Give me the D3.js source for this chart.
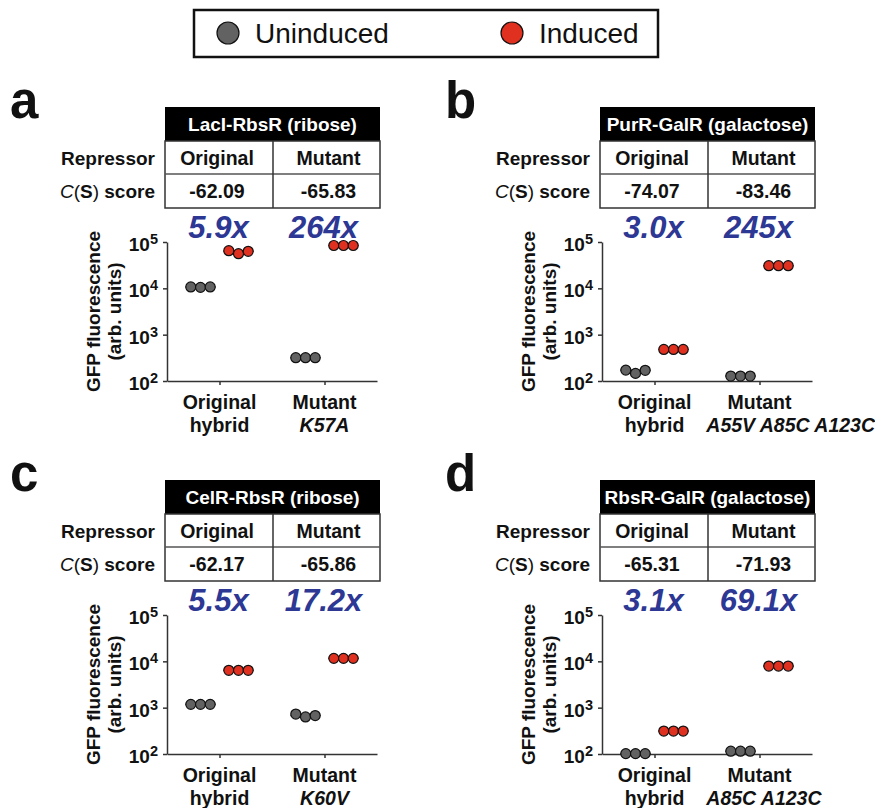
<!DOCTYPE html>
<html>
<head>
<meta charset="utf-8">
<script src="https://cdnjs.cloudflare.com/ajax/libs/d3/7.8.5/d3.min.js"></script>
<style>
	body { margin: 0; background: #fff; }
	svg { display: block; font-family: "Liberation Sans", Arial, sans-serif; }
</style>
</head>
<body>
<script>
// Data
var panelLetters = ['a', 'b', 'c', 'd'];
var repressors = ['LacI-RbsR (ribose)', 'PurR-GalR (galactose)', 'CelR-RbsR (ribose)', 'RbsR-GalR (galactose)'];
var scoreOriginal = ['-62.09', '-74.07', '-62.17', '-65.31'];
var scoreMutant = ['-65.83', '-83.46', '-65.86', '-71.93'];
var foldOriginal = ['5.9x', '3.0x', '5.5x', '3.1x'];
var foldMutant = ['264x', '245x', '17.2x', '69.1x'];
var mutations = ['K57A', 'A55V A85C A123C', 'K60V', 'A85C A123C'];
var categories = ['Original', 'Mutant'];
var conditions = ['Uninduced', 'Induced'];
var yTicks = [1e2, 1e3, 1e4, 1e5];

// three replicates per group
var origUninduced = [[10700, 10500, 10700], [172, 146, 170], [1180, 1180, 1180], [102, 102, 102]];
var origInduced   = [[65000, 56000, 63000], [480, 480, 480], [6400, 6400, 6400], [313, 313, 313]];
var mutUninduced  = [[318, 318, 318], [128, 128, 128], [728, 630, 676], [115, 115, 115]];
var mutInduced    = [[84000, 84000, 84000], [30800, 30800, 30800], [11600, 11600, 11600], [7900, 7900, 7900]];

var colors = { Uninduced: '#626262', Induced: '#e0301f' };
var foldColor = '#2d3794';

var W = 875, H = 808;
var svg = d3.select('body').append('svg').attr('width', W).attr('height', H);

// legend
var legend = svg.append('g');
legend.append('rect')
	.attr('x', 194).attr('y', 10).attr('width', 464).attr('height', 47)
	.attr('fill', 'none').attr('stroke', '#111').attr('stroke-width', 2.5);
var legendX = d3.scalePoint().domain(conditions).range([228, 512]);
conditions.forEach(function(c) {
	legend.append('circle')
		.attr('cx', legendX(c)).attr('cy', 33).attr('r', 11)
		.attr('fill', colors[c]).attr('stroke', '#111').attr('stroke-width', 1.2);
	legend.append('text')
		.attr('x', legendX(c) + 27).attr('y', 43)
		.style('font-size', '28px').attr('fill', '#111')
		.text(c);
});

function drawPanel(i) {
	var g = svg.append('g')
		.attr('transform', 'translate(' + ((i % 2) * 435) + ',' + (Math.floor(i / 2) * 373) + ')');

	// panel letter
	g.append('text')
		.attr('x', 10).attr('y', 118)
		.style('font-size', '51px').attr('font-weight', 'bold').attr('fill', '#111')
		.text(panelLetters[i]);

	// table
	var tx = [165, 273, 380], ty = [107, 141, 174, 208];
	g.append('rect')
		.attr('x', tx[0]).attr('y', ty[0]).attr('width', tx[2] - tx[0]).attr('height', ty[1] - ty[0])
		.attr('fill', '#000');
	g.append('text')
		.attr('x', (tx[0] + tx[2]) / 2).attr('y', ty[0] + 24)
		.attr('text-anchor', 'middle').style('font-size', '19px').attr('font-weight', 'bold').attr('fill', '#fff')
		.text(repressors[i]);
	g.append('rect')
		.attr('x', tx[0]).attr('y', ty[1]).attr('width', tx[2] - tx[0]).attr('height', ty[3] - ty[1])
		.attr('fill', 'none').attr('stroke', '#333').attr('stroke-width', 1.5);
	g.append('line')
		.attr('x1', tx[0]).attr('x2', tx[2]).attr('y1', ty[2]).attr('y2', ty[2])
		.attr('stroke', '#555').attr('stroke-width', 1.5);
	g.append('line')
		.attr('x1', tx[1]).attr('x2', tx[1]).attr('y1', ty[1]).attr('y2', ty[3])
		.attr('stroke', '#333').attr('stroke-width', 1.5);

	var rows = [[categories[0], categories[1]], [scoreOriginal[i], scoreMutant[i]]];
	rows.forEach(function(r, k) {
		r.forEach(function(t, j) {
			g.append('text')
				.attr('x', (tx[j] + tx[j + 1]) / 2 + (j ? 2 : -2)).attr('y', ty[k + 1] + 24)
				.attr('text-anchor', 'middle').style('font-size', '19.5px').attr('font-weight', 'bold').attr('fill', '#111')
				.text(t);
		});
	});
	g.append('text')
		.attr('x', 155).attr('y', ty[1] + 24)
		.attr('text-anchor', 'end').style('font-size', '19px').attr('font-weight', 'bold').attr('fill', '#111')
		.text('Repressor');
	var cs = g.append('text')
		.attr('x', 155).attr('y', ty[2] + 24)
		.attr('text-anchor', 'end').style('font-size', '19px').attr('fill', '#111');
	cs.append('tspan').attr('font-style', 'italic').text('C');
	cs.append('tspan').text('(');
	cs.append('tspan').attr('font-weight', 'bold').text('S');
	cs.append('tspan').text(') ');
	cs.append('tspan').attr('font-weight', 'bold').text('score');

	// plot scales
	var x = d3.scalePoint().domain(categories).range([167, 377]).padding(0.5);
	var y = d3.scaleLog().domain([1e2, 1e5]).range([381, 242]);
	var offset = d3.scalePoint().domain(conditions).range([-19, 19]);
	var rep = d3.scalePoint().domain([0, 1, 2]).range([-9.7, 9.7]);

	// axes
	var yAxis = g.append('g')
		.attr('transform', 'translate(167,0)')
		.call(d3.axisLeft(y).tickValues(yTicks).tickSize(4).tickSizeOuter(0).tickFormat(''));
	var xAxis = g.append('g')
		.attr('transform', 'translate(0,381)')
		.call(d3.axisBottom(x).tickSize(4).tickSizeOuter(0).tickFormat(''));
	[yAxis, xAxis].forEach(function(a) {
		a.select('.domain').attr('stroke', '#333').attr('stroke-width', 1.5);
		a.selectAll('.tick line').attr('stroke', '#333').attr('stroke-width', 1.5);
	});

	// tick labels 10^n
	yTicks.forEach(function(v) {
		var t = g.append('text')
			.attr('x', 158).attr('y', y(v) + 9)
			.attr('text-anchor', 'end').style('font-size', '19px').attr('font-weight', 'bold').attr('fill', '#111');
		t.append('tspan').style('font-size', '19px').text('10');
		t.append('tspan').style('font-size', '14.5px').attr('dy', -7).text(Math.round(Math.log10(v)));
	});

	// y title
	var yt = g.append('text')
		.attr('transform', 'translate(100,' + ((242 + 381) / 2) + ') rotate(-90)')
		.attr('text-anchor', 'middle').style('font-size', '19px').attr('font-weight', 'bold').attr('fill', '#111');
	yt.append('tspan').attr('x', 0).attr('y', 0).text('GFP fluorescence');
	yt.append('tspan').attr('x', 0).attr('y', 21).text('(arb. units)');

	// category labels under the axis
	var hybridRight = 0;
	categories.forEach(function(c, j) {
		g.append('text')
			.attr('x', x(c)).attr('y', 409)
			.attr('text-anchor', 'middle').style('font-size', '19.5px').attr('font-weight', 'bold').attr('fill', '#111')
			.text(j ? 'Mutant' : 'Original');
		var sub = g.append('text')
			.attr('x', x(c)).attr('y', 432)
			.attr('text-anchor', 'middle').style('font-size', '19.5px').attr('font-weight', 'bold').attr('fill', '#111')
			.attr('font-style', j ? 'italic' : 'normal')
			.text(j ? mutations[i] : 'hybrid');
		var w = sub.node().getComputedTextLength();
		if (!j) {
			hybridRight = x(c) + w / 2;
		} else if (x(c) - w / 2 < hybridRight + 22) {
			// long mutation list is pushed right of "hybrid"
			sub.attr('text-anchor', 'start').attr('x', hybridRight + 22);
		}
	});

	// fold labels
	[foldOriginal[i], foldMutant[i]].forEach(function(f, j) {
		g.append('text')
			.attr('x', x(categories[j]) - 1).attr('y', 238)
			.attr('text-anchor', 'middle').style('font-size', '31px').attr('font-weight', 'bold')
			.attr('font-style', 'italic').attr('fill', foldColor)
			.text(f);
	});

	// points
	var groups = [
		{ cat: 'Original', cond: 'Uninduced', vals: origUninduced[i] },
		{ cat: 'Original', cond: 'Induced', vals: origInduced[i] },
		{ cat: 'Mutant', cond: 'Uninduced', vals: mutUninduced[i] },
		{ cat: 'Mutant', cond: 'Induced', vals: mutInduced[i] }
	];
	groups.forEach(function(gr) {
		var cx = x(gr.cat) + offset(gr.cond);
		g.append('line')
			.attr('x1', cx - 15).attr('x2', cx + 15)
			.attr('y1', y(d3.median(gr.vals))).attr('y2', y(d3.median(gr.vals)))
			.attr('stroke', '#111').attr('stroke-width', 1.5);
		g.selectAll(null)
			.data(gr.vals)
			.enter()
			.append('circle')
			.attr('cx', function(d, k) { return cx + rep(k); })
			.attr('cy', function(d) { return y(d); })
			.attr('r', 5)
			.attr('fill', colors[gr.cond])
			.attr('stroke', '#111').attr('stroke-width', 1.2);
	});
}

panelLetters.forEach(function(l, i) { drawPanel(i); });
</script>
</body>
</html>
